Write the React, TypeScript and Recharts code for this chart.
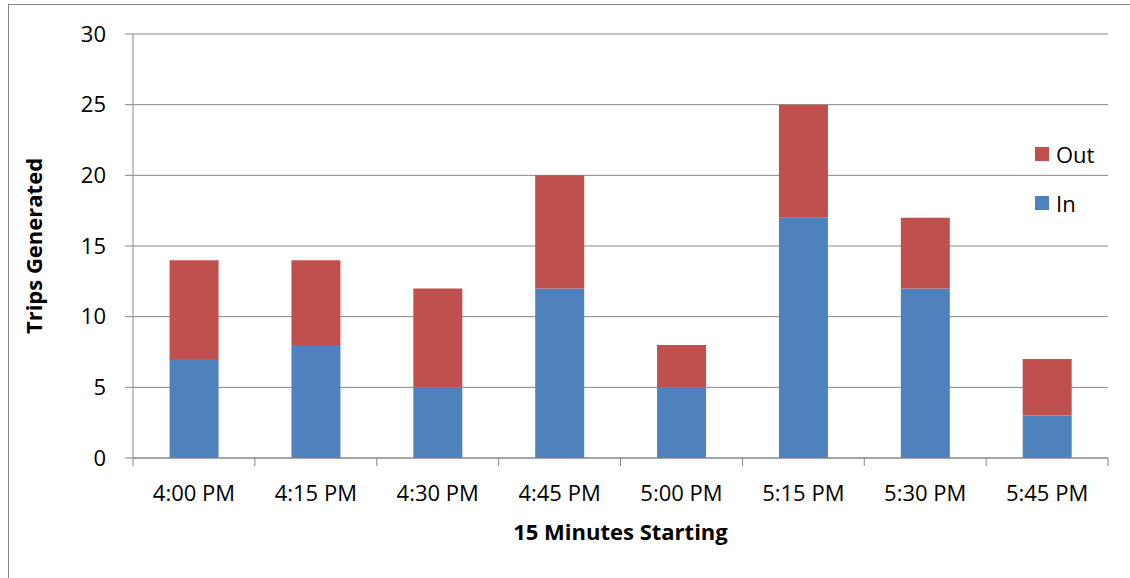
import React from 'react';
import { BarChart, Bar, XAxis, YAxis, CartesianGrid, Legend } from 'recharts';

// 15-minute slots and trips generated in each
const timeSlots = ['4:00 PM', '4:15 PM', '4:30 PM', '4:45 PM', '5:00 PM', '5:15 PM', '5:30 PM', '5:45 PM'];
const tripsIn = [7, 8, 5, 12, 5, 17, 12, 3];
const tripsOut = [7, 6, 7, 8, 3, 8, 5, 4];
const yTicks = [0, 5, 10, 15, 20, 25, 30];

const data = timeSlots.map((slot, i) => ({ slot, In: tripsIn[i], Out: tripsOut[i] }));

const FONT = '"Open Sans", "Noto Sans", sans-serif';
const FONT_SIZE = 22;
const GRAY = '#868686';
const IN_COLOR = '#4F81BD';
const OUT_COLOR = '#C0504D';

const CHART_W = 1121;
const CHART_H = 573;
const MARGIN = { top: 29, right: 22, bottom: 20, left: 0 };
const Y_AXIS_W = 124;

// category label in the middle, tick marks on the category boundaries
function SlotTick(props: any) {
  const { x, y, payload, index } = props;
  const plotW = CHART_W - MARGIN.left - MARGIN.right - Y_AXIS_W;
  const half = payload.offset || plotW / timeSlots.length / 2;
  const last = index === timeSlots.length - 1;
  return (
    <g>
      <line x1={x - half} x2={x - half} y1={y} y2={y + 8} stroke={GRAY} strokeWidth={1} />
      {last && <line x1={x + half} x2={x + half} y1={y} y2={y + 8} stroke={GRAY} strokeWidth={1} />}
      <text x={x} y={y + 34} textAnchor="middle" dominantBaseline="central" fontSize={FONT_SIZE} fontFamily={FONT} fill="#000">
        {payload.value}
      </text>
    </g>
  );
}

function XTitle(props: any) {
  const vb = props.viewBox;
  return (
    <text x={vb.x + vb.width / 2} y={vb.y + 73} textAnchor="middle" dominantBaseline="central"
      fontSize={FONT_SIZE} fontWeight={700} fontFamily={FONT} fill="#000">
      15 Minutes Starting
    </text>
  );
}

function YTitle(props: any) {
  const vb = props.viewBox;
  const cx = vb.x + 24;
  const cy = vb.y + vb.height / 2;
  return (
    <text x={cx} y={cy} transform={`rotate(-90 ${cx} ${cy})`} textAnchor="middle" dominantBaseline="central"
      fontSize={FONT_SIZE} fontWeight={700} fontFamily={FONT} fill="#000">
      Trips Generated
    </text>
  );
}

function TripLegend(props: any) {
  const items = [...(props.payload || [])].reverse();
  return (
    <div style={{ fontFamily: FONT, fontSize: FONT_SIZE }}>
      {items.map((item: any, i: number) => (
        <div key={item.value} style={{ display: 'flex', alignItems: 'center', height: 20, marginTop: i === 0 ? 0 : 29 }}>
          <span style={{ width: 14, height: 14, background: item.color, marginRight: 7, display: 'inline-block' }} />
          <span style={{ color: '#000' }}>{item.value}</span>
        </div>
      ))}
    </div>
  );
}

export default function App() {
  // pinned to the window so the frame sits at the same place as in the reference
  return (
    <div style={{ position: 'fixed', left: 0, top: 0, width: 1130, height: 578, background: '#fff', overflow: 'hidden' }}>
      <div style={{
        position: 'absolute', left: 8, top: 4, width: 1121, height: 573,
        borderLeft: `1px solid ${GRAY}`, borderTop: `1px solid ${GRAY}`,
      }}>
        <BarChart width={CHART_W} height={CHART_H} data={data} margin={MARGIN} barCategoryGap="30%">
          <CartesianGrid vertical={false} stroke={GRAY} />
          <XAxis
            dataKey="slot"
            height={100}
            axisLine={{ stroke: GRAY }}
            tickLine={false}
            tickSize={0}
            tickMargin={0}
            tick={<SlotTick />}
            interval={0}
            label={<XTitle />}
          />
          <YAxis
            width={Y_AXIS_W}
            domain={[0, 30]}
            ticks={yTicks}
            axisLine={{ stroke: GRAY }}
            tickLine={{ stroke: GRAY }}
            tickSize={8}
            tickMargin={19}
            tick={{ fontSize: FONT_SIZE, fontFamily: FONT, fill: '#000' }}
            label={<YTitle />}
          />
          <Legend
            layout="vertical"
            align="center"
            verticalAlign="middle"
            content={<TripLegend />}
            wrapperStyle={{ top: 139, left: 1026, width: 'auto' }}
          />
          <Bar dataKey="In" stackId="a" fill={IN_COLOR} isAnimationActive={false} />
          <Bar dataKey="Out" stackId="a" fill={OUT_COLOR} isAnimationActive={false} />
        </BarChart>
      </div>
    </div>
  );
}
